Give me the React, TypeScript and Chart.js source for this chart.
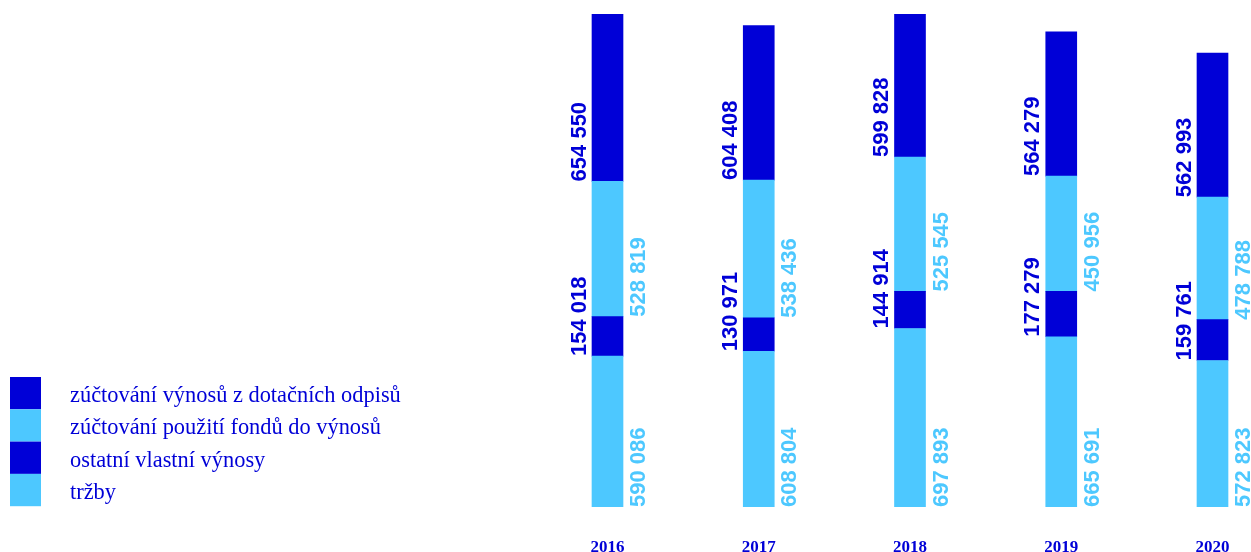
import React, { useEffect, useRef } from 'react';
import { Chart, registerables } from 'chart.js';

Chart.register(...registerables);

const years = ['2016', '2017', '2018', '2019', '2020'];
const trzby = [590086, 608804, 697893, 665691, 572823];
const ostatni = [154018, 130971, 144914, 177279, 159761];
const fondy = [528819, 538436, 525545, 450956, 478788];
const dotace = [654550, 604408, 599828, 564279, 562993];
const seriesNames = [
  'tržby',
  'ostatní vlastní výnosy',
  'zúčtování použití fondů do výnosů',
  'zúčtování výnosů z dotačních odpisů',
];
const yMax = 1927500;

const DARK = '#0000d7';
const LIGHT = '#4dc8ff';

const fmt = (v: number) => String(v).replace(/\B(?=(\d{3})+(?!\d))/g, ' ');

const valueLabels = {
  id: 'valueLabels',
  afterDatasetsDraw(chart: any) {
    const ctx = chart.ctx as CanvasRenderingContext2D;
    ctx.save();
    ctx.font = 'bold 22px "Liberation Sans", Arial, sans-serif';
    ctx.textBaseline = 'alphabetic';
    ctx.textAlign = 'left';
    chart.data.datasets.forEach((ds: any, di: number) => {
      const meta = chart.getDatasetMeta(di);
      const leftSide = di % 2 === 1;
      meta.data.forEach((bar: any, i: number) => {
        const { x, base, width } = bar.getProps(['x', 'base', 'width'], true);
        const bx = leftSide ? x - width / 2 - 6.5 : x + width / 2 + 22;
        ctx.save();
        ctx.translate(bx, base);
        ctx.rotate(-Math.PI / 2);
        ctx.fillStyle = ds.backgroundColor;
        ctx.fillText(fmt(ds.data[i]), 0, 0);
        ctx.restore();
      });
    });
    ctx.restore();
  },
};

const sideLegend = {
  id: 'sideLegend',
  afterDraw(chart: any) {
    const ctx = chart.ctx as CanvasRenderingContext2D;
    const ds = [...chart.data.datasets].reverse();
    const top = 377;
    const h = 32.3;
    ctx.save();
    ctx.font = '22.4px "Liberation Serif", serif';
    ctx.textBaseline = 'alphabetic';
    ctx.textAlign = 'left';
    ds.forEach((d: any, k: number) => {
      ctx.fillStyle = d.backgroundColor;
      ctx.fillRect(10, top + k * h, 31, h);
      ctx.fillStyle = DARK;
      ctx.fillText(d.label, 70, top + k * h + 25);
    });
    ctx.restore();
  },
};

export default function App() {
  const ref = useRef<HTMLCanvasElement>(null);
  useEffect(() => {
    if (!ref.current) return;
    const colors = [LIGHT, DARK, LIGHT, DARK];
    const values = [trzby, ostatni, fondy, dotace];
    const chart = new Chart(ref.current, {
      type: 'bar',
      data: {
        labels: years,
        datasets: values.map((v, i) => ({
          label: seriesNames[i],
          data: v,
          backgroundColor: colors[i],
          borderWidth: 0,
          barThickness: 31,
          clip: { left: 40, right: 40, top: 0, bottom: 0 } as any,
        })),
      },
      options: {
        animation: false,
        responsive: false,
        devicePixelRatio: 1,
        layout: { padding: { top: 14, left: 607.5, right: 38.5, bottom: 21 } },
        plugins: { legend: { display: false }, tooltip: { enabled: false } },
        scales: {
          x: {
            stacked: true,
            offset: false,
            grid: { display: false, drawTicks: false },
            border: { display: false },
            afterFit: (scale: any) => {
              scale.paddingLeft = 0;
              scale.paddingRight = 0;
            },
            ticks: {
              color: DARK,
              padding: 30.8,
              font: { family: '"Liberation Serif", serif', weight: 'bold', size: 17, lineHeight: 1.2 },
            },
          },
          y: { stacked: true, display: false, min: 0, max: yMax },
        },
      },
      plugins: [valueLabels, sideLegend],
    });
    return () => chart.destroy();
  }, []);
  return (
    <div style={{ position: 'fixed', left: 0, top: 0, width: 1251, height: 552, overflow: 'hidden', background: '#fff' }}>
      <canvas ref={ref} width={1251} height={610} style={{ display: 'block' }} />
    </div>
  );
}
